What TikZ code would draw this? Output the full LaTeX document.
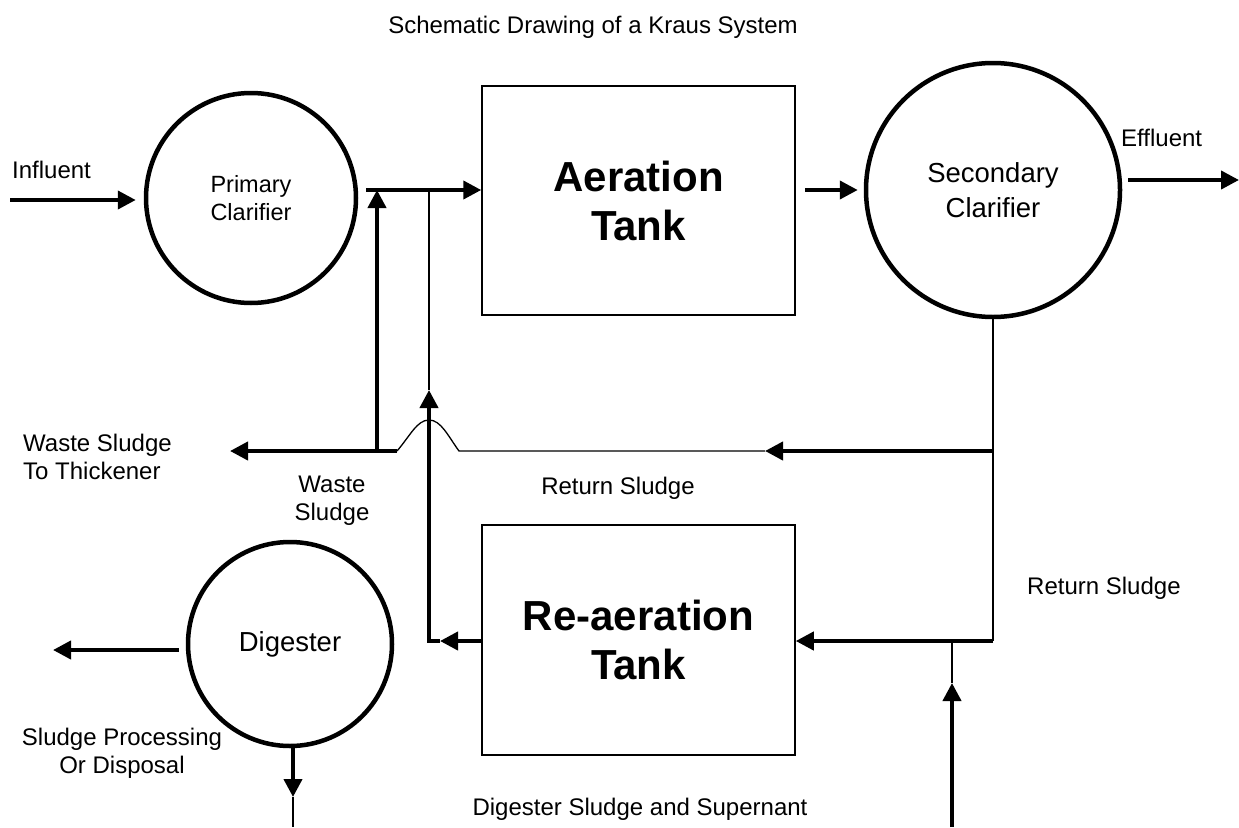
\documentclass[tikz,border=0pt]{standalone}
\usepackage{fontspec}
\setmainfont{Liberation Sans}
\usetikzlibrary{arrows.meta}

\begin{document}
\begin{tikzpicture}[x=1pt, y=-1pt, >={Triangle[length=18pt,width=18pt]},
    fluxo/.style={->, line width=4pt},
    fino/.style={line width=1.3pt},
    tanque/.style={draw, line width=1.5pt, minimum width=313pt, minimum height=229pt,
      align=center, font=\fontsize{42}{49}\selectfont\bfseries},
    decant/.style={circle, draw, line width=4.5pt, inner sep=0pt, align=center},
    rotulo/.style={inner sep=0pt, align=center, font=\fontsize{24}{28}\selectfont}]
      \useasboundingbox (0,0) rectangle (1239,827);

      % Título
      \node[rotulo, anchor=base] (titulo) at (593,33)
            {Schematic Drawing of a Kraus System};

      % Unidades do sistema
      \node[decant, minimum size=210pt, font=\fontsize{23.5}{28}\selectfont] (prim) at (251,198)
            {Primary\\Clarifier};
      \node[tanque] (aer) at (638.5,200.5) {Aeration\\Tank};
      \node[decant, minimum size=254pt, font=\fontsize{27.5}{35}\selectfont] (sec) at (993,190)
            {Secondary\\Clarifier};
      \node[tanque, minimum height=230pt] (reaer) at (638.5,640) {Re-aeration\\Tank};
      \node[decant, minimum size=204pt, font=\fontsize{27.5}{30}\selectfont] (dig) at (290,644)
            {Digester};

      % Pontos das linhas
      \coordinate (inf) at (10,200);
      \coordinate (j1) at (366,190);
      \coordinate (j2) at (377,190);
      \coordinate (j3) at (429,190);
      \coordinate (w1) at (377,451);
      \coordinate (b1) at (397,451);
      \coordinate (b2) at (459,451);
      \coordinate (topo) at (429,420);
      \coordinate (r1) at (765,451);
      \coordinate (r2) at (993,451);
      \coordinate (r3) at (993,641);
      \coordinate (ws) at (230,451);
      \coordinate (t1) at (429,390);
      \coordinate (t2) at (429,641);
      \coordinate (t3) at (440,641);
      \coordinate (a1) at (805,190);
      \coordinate (ef1) at (1128,180);
      \coordinate (ef2) at (1239,180);
      \coordinate (sb) at (952,827);
      \coordinate (st) at (952,683);
      \coordinate (dl) at (53,650);
      \coordinate (dd) at (293,797);
      \coordinate (dbot) at (293,827);

      % Linha principal
      \draw[fluxo, shorten >=8pt] (inf) -- (prim.west |- inf);
      \draw[fluxo] (j1) -- (aer.west |- j1);
      \draw[fluxo] (w1) -- (j2);
      \draw[fino] (j3) -- (t1);
      \draw[fluxo, shorten >=6pt] (a1) -- (sec);
      \draw[fluxo] (ef1) -- (ef2);

      % Retorno de lodo
      \draw[fino] (sec.south) -- (r3);
      \draw[fluxo] (r2) -- (r1);
      \draw[fino] (r1) -- (b2) .. controls (448,436) and (441,420) .. (topo)
            .. controls (417,420) and (410,436) .. (b1);
      \draw[fluxo] (b1) -- (ws);
      \draw[fluxo] (r3) -- (reaer.east |- r3);
      \draw[fluxo] (reaer.west |- t2) -- (t3);
      \draw[fluxo] (t3) -- (t2) -- (t1);

      % Digestor
      \draw[fluxo] (sb) -- (st);
      \draw[fino] (r3 -| st) -- (st);
      \draw[fluxo, shorten <=7pt] (dig.west |- dl) -- (dl);
      \draw[fluxo] (dig.south -| dd) -- (dd);
      \draw[fino] (dd) -- (dbot);

      % Rótulos
      \node[rotulo, anchor=base west] (influent) at (12,178) {Influent};
      \node[rotulo, anchor=base west] (effluent) at (1121,146) {Effluent};
      \node[rotulo, anchor=west, align=left] (thick) at (23,457) {Waste Sludge\\To Thickener};
      \node[rotulo] (waste) at (332,501) {Waste\\Sludge};
      \node[rotulo, anchor=base] (ret1) at (618,494) {Return Sludge};
      \node[rotulo, anchor=base west] (ret2) at (1027,594) {Return Sludge};
      \node[rotulo] (proc) at (122,753) {Sludge Processing\\Or Disposal};
      \node[rotulo, anchor=base] (super) at (640,815) {Digester Sludge and Supernant};
    \end{tikzpicture}
\end{document}
